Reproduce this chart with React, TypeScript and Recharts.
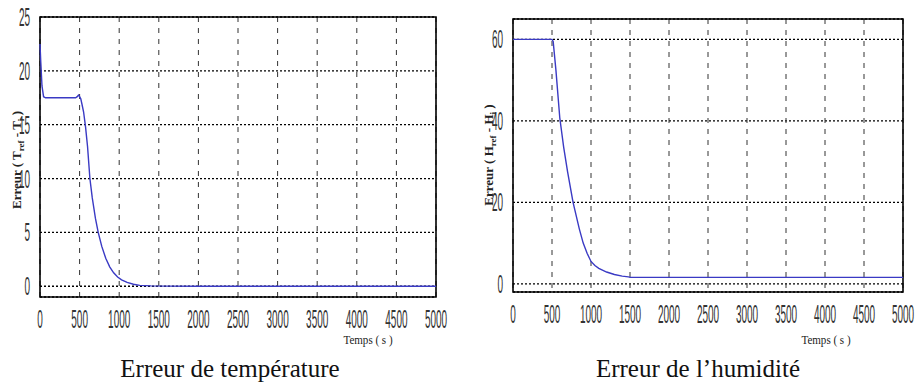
import React from "react";
import { LineChart, Line, XAxis, YAxis, CartesianGrid, ReferenceArea } from "recharts";

const timeTicks = [0, 500, 1000, 1500, 2000, 2500, 3000, 3500, 4000, 4500, 5000];
const tempTicks = [0, 5, 10, 15, 20, 25];
const humTicks = [0, 20, 40, 60];

const tempTime = [0, 10, 25, 45, 70, 100, 200, 300, 400, 450, 470, 485, 500, 515, 530, 550, 575, 600, 630, 660, 700, 735, 780, 830, 880, 930, 980, 1030, 1100, 1180, 1260, 1400, 1600, 2000, 2500, 3000, 3500, 4000, 4500, 5000];
const tempError = [22.5, 20.8, 18.6, 17.6, 17.5, 17.5, 17.5, 17.5, 17.5, 17.5, 17.6, 17.75, 17.6, 17.4, 16.9, 16.2, 14.8, 13.0, 10, 8.2, 6.3, 5.0, 3.7, 2.6, 1.8, 1.25, 0.85, 0.6, 0.35, 0.18, 0.08, 0.03, 0.01, 0, 0, 0, 0, 0, 0, 0];

const humTime = [0, 500, 515, 550, 600, 650, 700, 770, 850, 900, 950, 1000, 1050, 1100, 1200, 1300, 1400, 1480, 1500, 2000, 2500, 3000, 3500, 4000, 4500, 5000];
const humError = [60, 60, 59.5, 52.5, 40.7, 33.5, 27.5, 20, 13.5, 10, 7.5, 5.5, 4.5, 3.8, 2.9, 2.3, 1.9, 1.7, 1.6, 1.6, 1.6, 1.6, 1.6, 1.6, 1.6, 1.6];

const tempData = tempTime.map((t, i) => ({ t, v: tempError[i] }));
const humData = humTime.map((t, i) => ({ t, v: humError[i] }));

const LINE_COLOR = "#3a3ac4";

const renderXTick = (props: any) => {
  const { x, y, payload } = props;
  return (
    <g transform={`translate(${x},${y + 23})`}>
      <text
        transform="scale(0.4,1)"
        textAnchor="middle"
        fontFamily="Liberation Sans, Arial, sans-serif"
        fontSize={25}
        fill="#333"
      >
        {payload.value}
      </text>
    </g>
  );
};

const renderYTick = (props: any) => {
  const { x, y, payload } = props;
  return (
    <g transform={`translate(${x - 2},${y + 9})`}>
      <text
        transform="scale(0.4,1)"
        textAnchor="end"
        fontFamily="Liberation Sans, Arial, sans-serif"
        fontSize={25}
        fill="#333"
      >
        {payload.value}
      </text>
    </g>
  );
};

const labelFont = "Liberation Serif, Times New Roman, serif";

export default function App() {
  return (
    <div style={{ position: "absolute", left: 0, top: 0, width: 915, height: 388, background: "#fff" }}>
      <div style={{ position: "absolute", left: 0, top: 0 }}>
        <LineChart width={450} height={340} data={tempData} margin={{ top: 17, right: 14, bottom: 0, left: 0 }}>
          <CartesianGrid horizontal={true} vertical={false} stroke="#000" strokeWidth={1.3} strokeDasharray="2 2" />
          <CartesianGrid horizontal={false} vertical={true} stroke="#333" strokeWidth={1} strokeDasharray="5 6" />
          <XAxis dataKey="t" type="number" domain={[0, 5000]} ticks={timeTicks} height={43} axisLine={false} tickLine={false} tick={renderXTick} interval={0} />
          <YAxis type="number" domain={[-1, 25]} ticks={tempTicks} width={40} axisLine={false} tickLine={false} tick={renderYTick} interval={0} />
          <ReferenceArea x1={0} x2={5000} y1={-1} y2={25} fill="none" stroke="#000" strokeWidth={1.6} />
          <Line type="linear" dataKey="v" stroke={LINE_COLOR} strokeWidth={1.4} dot={false} isAnimationActive={false} />
        </LineChart>
      </div>
      <div style={{ position: "absolute", left: 460, top: 0 }}>
        <LineChart width={455} height={340} data={humData} margin={{ top: 19, right: 12, bottom: 0, left: 0 }}>
          <CartesianGrid horizontal={true} vertical={false} stroke="#000" strokeWidth={1.3} strokeDasharray="2 2" />
          <CartesianGrid horizontal={false} vertical={true} stroke="#333" strokeWidth={1} strokeDasharray="5 6" />
          <XAxis dataKey="t" type="number" domain={[0, 5000]} ticks={timeTicks} height={48} axisLine={false} tickLine={false} tick={renderXTick} interval={0} />
          <YAxis type="number" domain={[-2, 65]} ticks={humTicks} width={53} axisLine={false} tickLine={false} tick={renderYTick} interval={0} />
          <ReferenceArea x1={0} x2={5000} y1={-2} y2={65} fill="none" stroke="#000" strokeWidth={1.6} />
          <Line type="linear" dataKey="v" stroke={LINE_COLOR} strokeWidth={1.4} dot={false} isAnimationActive={false} />
        </LineChart>
      </div>
      <svg width={915} height={388} style={{ position: "absolute", left: 0, top: 0, pointerEvents: "none" }}>
        <text transform="translate(21,160) rotate(-90)" textAnchor="middle" fontFamily={labelFont} fontWeight="bold" fontSize={13} fill="#222">
          Erreur ( T<tspan fontSize={9} dy={3}>ref</tspan><tspan dy={-3}> - T</tspan><tspan fontSize={9} dy={3}>i</tspan><tspan dy={-3}> )</tspan>
        </text>
        <text transform="translate(493,155) rotate(-90)" textAnchor="middle" fontFamily={labelFont} fontWeight="bold" fontSize={13} fill="#222">
          Erreur ( H<tspan fontSize={9} dy={3}>ref</tspan><tspan dy={-3}> - H</tspan><tspan fontSize={9} dy={3}>i</tspan><tspan dy={-3}> )</tspan>
        </text>
        <text transform="translate(368,344) scale(0.85,1)" textAnchor="middle" fontFamily={labelFont} fontSize={13} fill="#222">Temps ( s )</text>
        <text transform="translate(826,344) scale(0.85,1)" textAnchor="middle" fontFamily={labelFont} fontSize={13} fill="#222">Temps ( s )</text>
        <text x={230} y={377} textAnchor="middle" fontFamily={labelFont} fontSize={25} fill="#111">Erreur de température</text>
        <text x={698} y={377} textAnchor="middle" fontFamily={labelFont} fontSize={25} fill="#111">Erreur de l’humidité</text>
      </svg>
    </div>
  );
}
